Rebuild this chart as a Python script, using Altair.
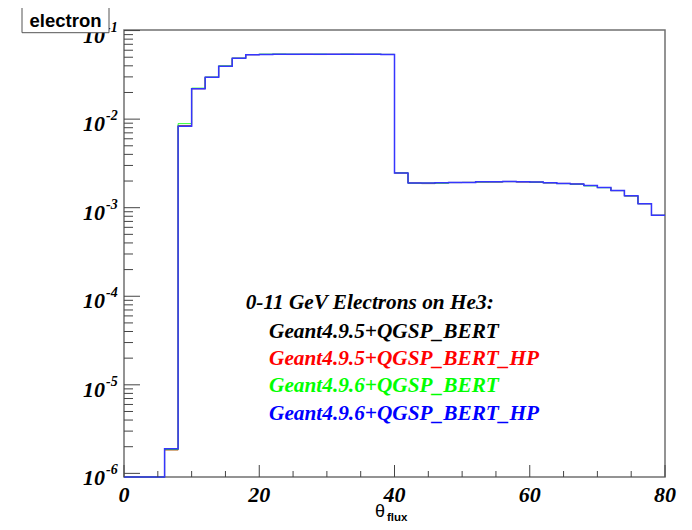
import altair as alt
import pandas as pd

# ---------------- data ----------------
bin_low = [0, 2, 4, 6, 8, 10, 12, 14, 16, 18,
           20, 22, 24, 26, 28, 30, 32, 34, 36, 38,
           40, 42, 44, 46, 48, 50, 52, 54, 56, 58,
           60, 62, 64, 66, 68, 70, 72, 74, 76, 78]
x_end = 80

series_names = ["Geant4.9.5+QGSP_BERT", "Geant4.9.5+QGSP_BERT_HP",
                "Geant4.9.6+QGSP_BERT", "Geant4.9.6+QGSP_BERT_HP"]
series_colors = ["#000000", "#ff0000", "#00ff00", "#0000ff"]

g495_bert = [0, 0, 0, 1.86e-6, 8.45e-3, 2.21e-2, 2.97e-2, 3.95e-2, 4.87e-2, 5.35e-2,
             5.38e-2, 5.39e-2, 5.39e-2, 5.41e-2, 5.40e-2, 5.39e-2, 5.41e-2, 5.40e-2, 5.39e-2, 5.38e-2,
             2.47e-3, 1.90e-3, 1.87e-3, 1.91e-3, 1.93e-3, 1.93e-3, 1.96e-3, 1.95e-3, 1.98e-3, 1.95e-3,
             1.95e-3, 1.91e-3, 1.88e-3, 1.85e-3, 1.78e-3, 1.69e-3, 1.56e-3, 1.36e-3, 1.11e-3, 8.2e-4]
g495_bert_hp = [0, 0, 0, 1.83e-6, 8.40e-3, 2.20e-2, 2.96e-2, 3.95e-2, 4.86e-2, 5.34e-2,
                5.37e-2, 5.38e-2, 5.36e-2, 5.39e-2, 5.36e-2, 5.40e-2, 5.37e-2, 5.39e-2, 5.38e-2, 5.37e-2,
                2.46e-3, 1.90e-3, 1.89e-3, 1.91e-3, 1.92e-3, 1.93e-3, 1.95e-3, 1.96e-3, 1.97e-3, 1.96e-3,
                1.94e-3, 1.91e-3, 1.88e-3, 1.85e-3, 1.78e-3, 1.69e-3, 1.56e-3, 1.36e-3, 1.11e-3, 8.2e-4]
g496_bert = [0, 0, 0, 1.85e-6, 8.90e-3, 2.24e-2, 2.98e-2, 4.00e-2, 4.88e-2, 5.36e-2,
             5.42e-2, 5.43e-2, 5.41e-2, 5.38e-2, 5.41e-2, 5.38e-2, 5.41e-2, 5.38e-2, 5.41e-2, 5.38e-2,
             2.47e-3, 1.89e-3, 1.90e-3, 1.89e-3, 1.92e-3, 1.93e-3, 1.95e-3, 1.96e-3, 1.97e-3, 1.97e-3,
             1.94e-3, 1.91e-3, 1.87e-3, 1.84e-3, 1.76e-3, 1.68e-3, 1.56e-3, 1.36e-3, 1.11e-3, 8.2e-4]
g496_bert_hp = [0, 0, 0, 1.90e-6, 8.30e-3, 2.21e-2, 2.97e-2, 3.95e-2, 4.87e-2, 5.35e-2,
                5.38e-2, 5.39e-2, 5.40e-2, 5.39e-2, 5.40e-2, 5.41e-2, 5.40e-2, 5.39e-2, 5.40e-2, 5.38e-2,
                2.46e-3, 1.90e-3, 1.90e-3, 1.91e-3, 1.93e-3, 1.93e-3, 1.96e-3, 1.96e-3, 1.98e-3, 1.96e-3,
                1.95e-3, 1.91e-3, 1.88e-3, 1.85e-3, 1.78e-3, 1.69e-3, 1.56e-3, 1.36e-3, 1.11e-3, 8.2e-4]
series_values = [g495_bert, g495_bert_hp, g496_bert, g496_bert_hp]
series_widths = [1, 1, 1, 1.5]
series_opacity = [0.6, 0.6, 0.8, 1]
line_colors = ["#000000", "#ff0000", "#00ff00", "#3535ff"]

legend_title = "0-11 GeV Electrons on He3:"
hist_title = "electron"
x_title_main = "θ"
x_title_sub = "flux"

x_major = [0, 20, 40, 60, 80]
x_minor = [5, 10, 15, 25, 30, 35, 45, 50, 55, 65, 70, 75]
y_exponents = [-6, -5, -4, -3, -2, -1]
y_minor_mult = [2, 3, 4, 5, 6, 7, 8, 9]

# ---------------- layout ----------------
W, H = 541, 447
Y_MIN, Y_MAX = 9.1e-7, 0.1015
SERIF = "Liberation Serif"
SANS = "Liberation Sans"
TICK = "#444444"

xs = alt.Scale(domain=[0, 80], nice=False, zero=False)
ys = alt.Scale(type="log", domain=[Y_MIN, Y_MAX], nice=False)


def hist_df(vals):
    xv = bin_low + [x_end]
    yv = [max(v, Y_MIN) for v in vals] + [max(vals[-1], Y_MIN)]
    return pd.DataFrame({"x": xv, "y": yv})


layers = []
for col, vals, sw, op in zip(line_colors, series_values, series_widths, series_opacity):
    layers.append(
        alt.Chart(hist_df(vals)).mark_line(interpolate="step-after", color=col,
                                           strokeWidth=sw, strokeOpacity=op)
        .encode(x=alt.X("x:Q", scale=xs, axis=None),
                y=alt.Y("y:Q", scale=ys, axis=None))
    )

ymaj = pd.DataFrame({"v": [10.0 ** e for e in y_exponents],
                     "e": [str(e) for e in y_exponents],
                     "b": ["10"] * len(y_exponents)})
ymin_df = pd.DataFrame({"v": [m * 10.0 ** e for e in y_exponents[:-1] for m in y_minor_mult]})
xmaj = pd.DataFrame({"v": x_major, "t": [str(v) for v in x_major]})
xmin_df = pd.DataFrame({"v": x_minor})

ticks = [
    alt.Chart(ymaj).mark_rule(color=TICK, strokeWidth=1).encode(
        y=alt.Y("v:Q", scale=ys, axis=None), x=alt.value(0), x2=alt.value(16)),
    alt.Chart(ymin_df).mark_rule(color=TICK, strokeWidth=1).encode(
        y=alt.Y("v:Q", scale=ys, axis=None), x=alt.value(0), x2=alt.value(9)),
    alt.Chart(xmaj).mark_rule(color=TICK, strokeWidth=1).encode(
        x=alt.X("v:Q", scale=xs, axis=None), y=alt.value(H), y2=alt.value(H - 12)),
    alt.Chart(xmin_df).mark_rule(color=TICK, strokeWidth=1).encode(
        x=alt.X("v:Q", scale=xs, axis=None), y=alt.value(H), y2=alt.value(H - 6)),
]

xlabels = [
    alt.Chart(xmaj).mark_text(align="center", baseline="alphabetic", font=SERIF,
                              fontStyle="italic", fontWeight="bold", fontSize=22, color="black")
    .encode(x=alt.X("v:Q", scale=xs, axis=None), y=alt.value(H + 25), text="t:N"),
]

ylabels = [
    alt.Chart(ymaj).mark_text(align="right", baseline="alphabetic", dy=12, font=SERIF,
                              fontStyle="italic", fontWeight="bold", fontSize=22, color="black")
    .encode(y=alt.Y("v:Q", scale=ys, axis=None), x=alt.value(-19), text="b:N"),
    alt.Chart(ymaj).mark_text(align="left", baseline="alphabetic", dy=1, font=SERIF,
                              fontStyle="italic", fontWeight="bold", fontSize=14, color="black")
    .encode(y=alt.Y("v:Q", scale=ys, axis=None), x=alt.value(-18), text="e:N"),
]

title_df = pd.DataFrame({"t": [hist_title]})
box = [
    alt.Chart(title_df).mark_rect(fill="white", stroke="#555555", strokeWidth=1).encode(
        x=alt.value(-102), x2=alt.value(-15), y=alt.value(-25.7), y2=alt.value(2.7)),
    alt.Chart(title_df).mark_text(font=SANS, fontWeight="bold", fontSize=18.5, align="center",
                                  baseline="alphabetic", color="black").encode(
        x=alt.value(-58.5), y=alt.value(-3.3), text="t:N"),
]

xt_df = pd.DataFrame({"m": [x_title_main], "s": [x_title_sub]})
xtitle = [
    alt.Chart(xt_df).mark_text(font=SANS, fontSize=18, align="left", baseline="alphabetic",
                               color="black").encode(x=alt.value(251), y=alt.value(487), text="m:N"),
    alt.Chart(xt_df).mark_text(font=SANS, fontSize=11.5, fontWeight="bold", align="left",
                               baseline="alphabetic", color="black").encode(
        x=alt.value(263), y=alt.value(491), text="s:N"),
]

leg_texts = [legend_title] + series_names
leg_colors = ["#000000"] + series_colors
leg_x = [121.7, 145, 145, 145, 145]
leg_y = [279.3, 308, 335, 361.7, 390]
legend = []
for t, c, lx, ly in zip(leg_texts, leg_colors, leg_x, leg_y):
    legend.append(
        alt.Chart(pd.DataFrame({"t": [t]})).mark_text(
            font=SERIF, fontStyle="italic", fontWeight="bold", fontSize=21.3,
            align="left", baseline="alphabetic", color=c)
        .encode(x=alt.value(lx), y=alt.value(ly), text="t:N")
    )

chart = alt.layer(*(layers + ticks + xlabels + ylabels + box + xtitle + legend)).properties(
    width=W, height=H,
    padding={"left": 116, "top": 22, "right": 19, "bottom": 45},
    autosize=alt.AutoSizeParams(type="none"),
    background="white",
).configure_view(stroke="#707070", strokeWidth=1.5)

chart.save("out.html", embed_options={"renderer": "svg", "actions": False})
